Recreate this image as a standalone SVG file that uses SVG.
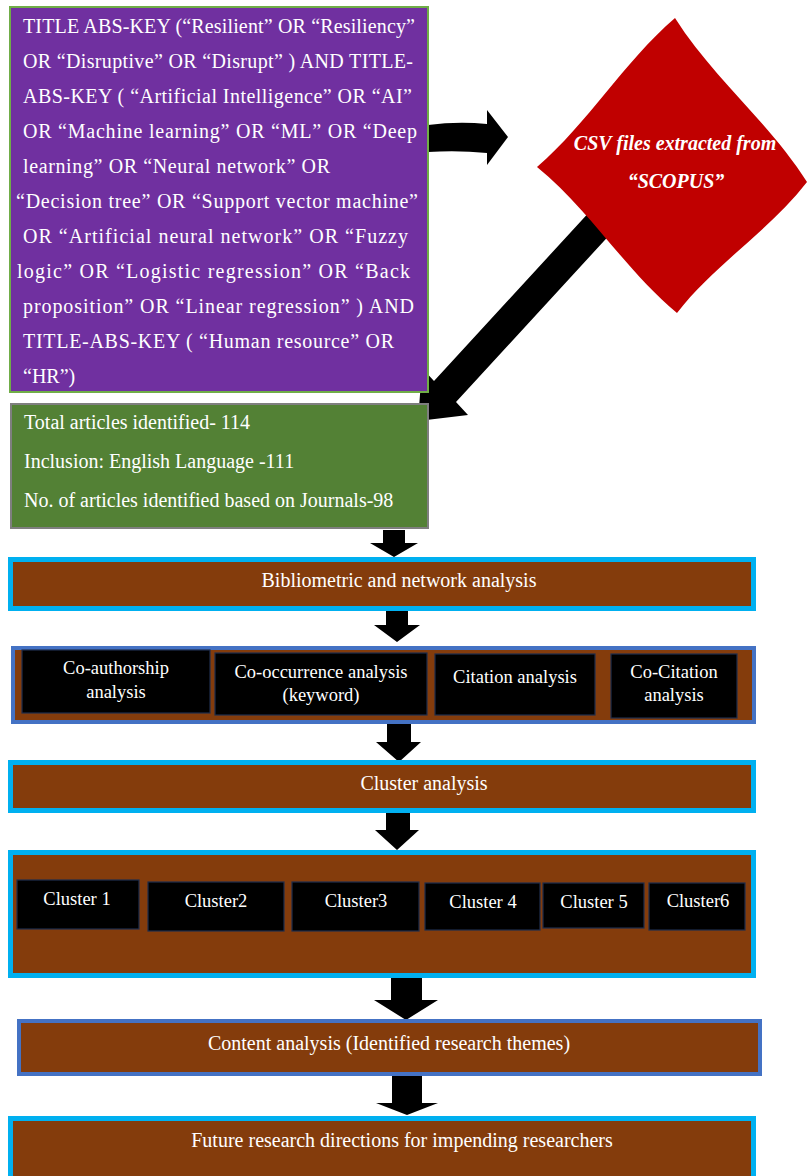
<svg xmlns="http://www.w3.org/2000/svg" width="807" height="1176" viewBox="0 0 807 1176">
<style>
.t{font-family:"Liberation Serif","Times New Roman",serif;fill:#fff;font-size:20px}
.c{text-anchor:middle}
.s{font-size:18.5px}
.brc{fill:#843C0C;stroke:#00B0F0;stroke-width:5}
.brb{fill:#843C0C;stroke:#4472C4;stroke-width:4}
.blk{fill:#000;stroke:#1F2D4D;stroke-width:1.2}
.arr{fill:#000}
</style>
<rect width="807" height="1176" fill="#fff"/>
<g id="connectors">
<path class="arr" d="M428,125 Q458,121 487,124 L487,110 L508,137 L487,165 L487,153 Q458,150 428,152 Z"/>
<path class="arr" d="M615,229 L456,402 L468,415 L418,421 L422,368 L434,381 L593,208 Z"/>
<path class="arr" d="M383,530 H405 V543 H418 L394,557 L370,543 H383 Z"/>
<path class="arr" d="M386,610 H408 V625 H420 L397,642 L374,625 H386 Z"/>
<path class="arr" d="M387,723 H411 V742 H421 L399,762 L376,742 H387 Z"/>
<path class="arr" d="M386,812 H410 V830 H419 L397,850 L375,830 H386 Z"/>
<path class="arr" d="M391,977 H422 V1000 H438 L406,1020 L374,1000 H391 Z"/>
<path class="arr" d="M392,1074 H422 V1103 H438 L407,1115 L376,1103 H392 Z"/>
</g>
<g id="query">
<rect x="10" y="7" width="418" height="385" fill="#7030A0" stroke="#70AD47" stroke-width="2"/>
<text class="t" x="23" y="33" textLength="392" lengthAdjust="spacing">TITLE ABS-KEY (“Resilient” OR “Resiliency”</text>
<text class="t" x="23" y="68" textLength="390" lengthAdjust="spacing">OR “Disruptive” OR “Disrupt” ) AND TITLE-</text>
<text class="t" x="23" y="103" textLength="389" lengthAdjust="spacing">ABS-KEY ( “Artificial Intelligence” OR “AI”</text>
<text class="t" x="23" y="138" textLength="394" lengthAdjust="spacing">OR “Machine learning” OR “ML” OR “Deep</text>
<text class="t" x="23" y="173" textLength="307" lengthAdjust="spacing">learning” OR “Neural network” OR</text>
<text class="t" x="16" y="208" textLength="402" lengthAdjust="spacing">“Decision tree” OR “Support vector machine”</text>
<text class="t" x="23" y="243" textLength="385" lengthAdjust="spacing">OR “Artificial neural network” OR “Fuzzy</text>
<text class="t" x="17" y="278" textLength="393" lengthAdjust="spacing">logic” OR “Logistic regression” OR “Back</text>
<text class="t" x="23" y="313" textLength="391" lengthAdjust="spacing">proposition” OR “Linear regression” ) AND</text>
<text class="t" x="23" y="348" textLength="371" lengthAdjust="spacing">TITLE-ABS-KEY ( “Human resource” OR</text>
<text class="t" x="23" y="383">“HR”)</text>
</g>
<g id="scopus">
<path d="M537,167 C589,122 623,63 675,18 C713,78 769,122 807,182 C769,231 715,264 677,313 C625,270 590,210 537,167 Z" fill="#C00000"/>
<text class="t c" x="675" y="150" font-weight="bold" font-style="italic">CSV files extracted from</text>
<text class="t c" x="676" y="188" font-weight="bold" font-style="italic">“SCOPUS”</text>
</g>
<g id="articles">
<rect x="11" y="404" width="417" height="124" fill="#538135" stroke="#7F7F7F" stroke-width="2"/>
<text class="t" x="24" y="429">Total articles identified- 114</text>
<text class="t" x="24" y="468">Inclusion: English Language -111</text>
<text class="t" x="24" y="507">No. of articles identified based on Journals-98</text>
</g>
<g id="bibliometric">
<rect class="brc" x="10.5" y="559.5" width="743" height="49"/>
<text class="t c" x="399" y="587">Bibliometric and network analysis</text>
</g>
<g id="analyses">
<rect class="brb" x="13" y="648" width="741" height="74"/>
<rect class="blk" x="22" y="650" width="188" height="63"/>
<text class="t c s" x="116" y="674">Co-authorship</text>
<text class="t c s" x="116" y="698">analysis</text>
<rect class="blk" x="215" y="653" width="212" height="62"/>
<text class="t c s" x="321" y="678">Co-occurrence analysis</text>
<text class="t c s" x="321" y="701">(keyword)</text>
<rect class="blk" x="435" y="654" width="160" height="61"/>
<text class="t c s" x="515" y="683">Citation analysis</text>
<rect class="blk" x="611" y="654" width="126" height="64"/>
<text class="t c s" x="674" y="678">Co-Citation</text>
<text class="t c s" x="674" y="701">analysis</text>
</g>
<g id="cluster-analysis">
<rect class="brc" x="10.5" y="762.5" width="743" height="48"/>
<text class="t c" x="424" y="790">Cluster analysis</text>
</g>
<g id="clusters">
<rect class="brc" x="10.5" y="852.5" width="743" height="123"/>
<rect class="blk" x="17" y="880" width="122" height="49"/>
<text class="t c s" x="77" y="905">Cluster 1</text>
<rect class="blk" x="148" y="882" width="136" height="49"/>
<text class="t c s" x="216" y="907">Cluster2</text>
<rect class="blk" x="292" y="882" width="127" height="49"/>
<text class="t c s" x="356" y="907">Cluster3</text>
<rect class="blk" x="425" y="883" width="115" height="47"/>
<text class="t c s" x="483" y="908">Cluster 4</text>
<rect class="blk" x="543" y="883" width="101" height="45"/>
<text class="t c s" x="594" y="908">Cluster 5</text>
<rect class="blk" x="649" y="883" width="96" height="47"/>
<text class="t c s" x="698" y="907">Cluster6</text>
</g>
<g id="content">
<rect class="brb" x="19" y="1021" width="741" height="53"/>
<text class="t c" x="389" y="1050">Content analysis (Identified research themes)</text>
</g>
<g id="future">
<rect class="brc" x="10.5" y="1118.5" width="743" height="60"/>
<text class="t c" x="402" y="1147">Future research directions for impending researchers</text>
</g>
</svg>
